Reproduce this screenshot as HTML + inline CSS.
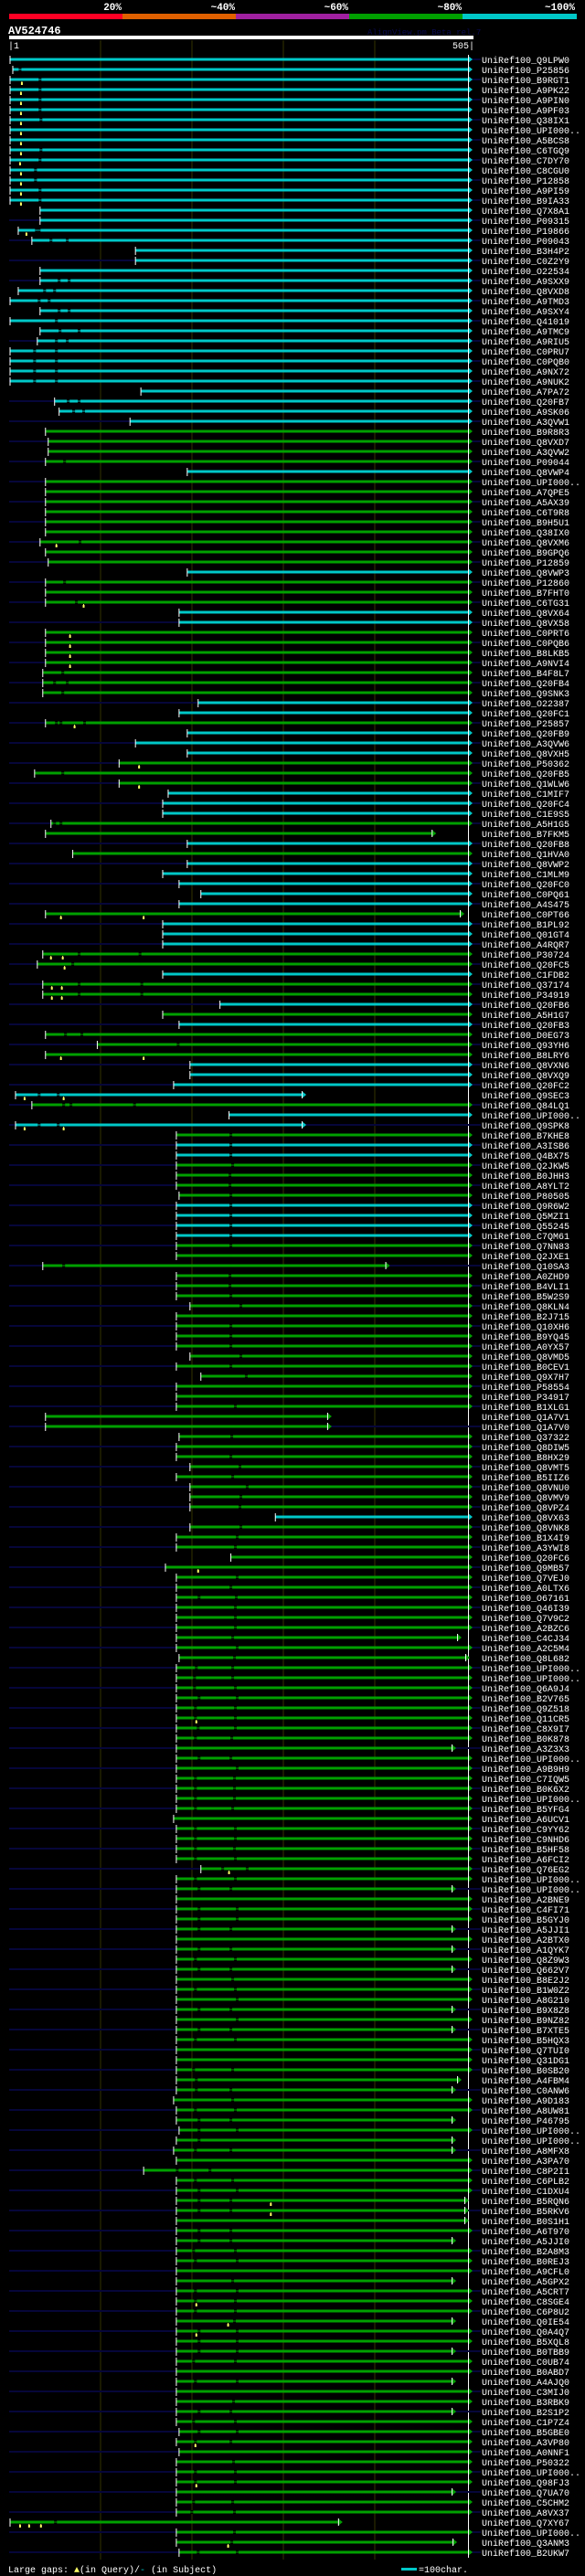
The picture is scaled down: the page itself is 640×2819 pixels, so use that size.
<!DOCTYPE html>
<html><head><meta charset="utf-8"><title>AV524746 alignment overview</title>
<style>
html,body{margin:0;padding:0;background:#000;}
body{width:640px;height:2819px;overflow:hidden;}
svg{display:block;}
text{font-family:"Liberation Mono",monospace;}
</style></head>
<body>
<svg id="chart" width="640" height="2819" viewBox="0 0 640 2819" xmlns="http://www.w3.org/2000/svg">
  <g>
    <text x="133" y="11" fill="#fff" font-size="11" font-weight="bold" text-anchor="end">20%</text>
    <text x="257" y="11" fill="#fff" font-size="11" font-weight="bold" text-anchor="end">~40%</text>
    <text x="381" y="11" fill="#fff" font-size="11" font-weight="bold" text-anchor="end">~60%</text>
    <text x="505" y="11" fill="#fff" font-size="11" font-weight="bold" text-anchor="end">~80%</text>
    <text x="629" y="11" fill="#fff" font-size="11" font-weight="bold" text-anchor="end">~100%</text>
    <rect x="10" y="15" width="124" height="6" fill="#ff0024"/>
    <rect x="134" y="15" width="124" height="6" fill="#e06000"/>
    <rect x="258" y="15" width="124" height="6" fill="#a020a0"/>
    <rect x="382" y="15" width="124" height="6" fill="#00a000"/>
    <rect x="506" y="15" width="125" height="6" fill="#00c8c8"/>
  </g>
  <text x="9" y="37" fill="#fff" font-size="12" font-weight="bold">AV524746</text>
  <text x="402" y="38" fill="#0a0a50" font-size="9">AlignView.pm Beta rel.7</text>
  <rect x="10" y="39" width="508" height="4" fill="#fff"/>
  <text x="9" y="53" fill="#fff" font-size="10">|1</text>
  <text x="519" y="53" fill="#fff" font-size="10" text-anchor="end">505|</text>
  <g id="grid"></g>
  <g id="rows"></g>
  <g>
    <text x="9" y="2815" fill="#fff" font-size="10">Large gaps: <tspan fill="#ffff66">▲</tspan>(in Query)/<tspan fill="#00c8c8">-</tspan> (in Subject)</text>
    <rect x="439" y="2810" width="17" height="3" fill="#00c8c8"/>
    <text x="458" y="2815" fill="#fff" font-size="10">=100char.</text>
  </g>
</svg>
<script>
const queryLength = 505;
const gridTicks = [101, 201, 302, 402];
const names = ["Q9LPW0","P25856","B9RGT1","A9PK22","A9PIN0","A9PF03","Q38IX1","UPI000..","A5BCS8","C6TGQ9","C7DY70","C8CGU0","P12858","A9PI59","B9IA33","Q7X8A1","P09315","P19866","P09043","B3H4P2","C0Z2Y9","O22534","A9SXX9","Q8VXD8","A9TMD3","A9SXY4","Q41019","A9TMC9","A9RIU5","C0PRU7","C0PQB0","A9NX72","A9NUK2","A7PA72","Q20FB7","A9SK06","A3QVW1","B9R8R3","Q8VXD7","A3QVW2","P09044","Q8VWP4",
"UPI000..","A7QPE5","A5AX39","C6T9R8","B9H5U1","Q38IX0","Q8VXM6","B9GPQ6","P12859","Q8VWP3","P12860","B7FHT0","C6TG31","Q8VX64","Q8VX58","C0PRT6","C0PQB6","B8LKB5","A9NVI4","B4F8L7","Q20FB4","Q9SNK3","O22387","Q20FC1","P25857","Q20FB9","A3QVW6","Q8VXH5","P50362","Q20FB5","Q1WLW6","C1MIF7","Q20FC4","C1E9S5","A5H1G5","B7FKM5","Q20FB8","Q1HVA0","Q8VWP2","C1MLM9","Q20FC0","C0PQ61",
"A4S475","C0PT66","B1PL92","Q01GT4","A4RQR7","P30724","Q20FC5","C1FDB2","Q37174","P34919","Q20FB6","A5H1G7","Q20FB3","D0EG73","Q93YH6","B8LRY6","Q8VXN6","Q8VXQ9","Q20FC2","Q9SEC3","Q84LQ1","UPI000..","Q9SPK8","B7KHE8","A3ISB6","Q4BX75","Q2JKW5","B0JHH3","A8YLT2","P80505","Q9R6W2","Q5MZI1","Q55245","C7QM61","Q7NN83","Q2JXE1","Q10SA3","A0ZHD9","B4VLI1","B5W2S9","Q8KLN4","B2J715",
"Q10XH6","B9YQ45","A0YX57","Q8VMD5","B0CEV1","Q9X7H7","P58554","P34917","B1XLG1","Q1A7V1","Q1A7V0","Q37322","Q8DIW5","B8HX29","Q8VMT5","B5IIZ6","Q8VNU0","Q8VMV9","Q8VPZ4","Q8VX63","Q8VNK8","B1X4I9","A3YWI8","Q20FC6","Q9MB57","Q7VEJ0","A0LTX6","O67161","Q46I39","Q7V9C2","A2BZC6","C4CJ34","A2C5M4","Q8L682","UPI000..","UPI000..","Q6A9J4","B2V765","Q9Z518","Q11CR5","C8X9I7","B0K878",
"A3Z3X3","UPI000..","A9B9H9","C7IQW5","B0K6X2","UPI000..","B5YFG4","A6UCV1","C9YY62","C9NHD6","B5HF58","A6FCI2","Q76EG2","UPI000..","UPI000..","A2BNE9","C4FI71","B5GYJ0","A5JJI1","A2BTX0","A1QYK7","Q8Z9W3","Q662V7","B8E2J2","B1W0Z2","A8G210","B9X8Z8","B9NZ82","B7XTE5","B5HQX3","Q7TUI0","Q31DG1","B0SB20","A4FBM4","C0ANW6","A9D183","A8UW81","P46795","UPI000..","UPI000..","A8MFX8","A3PA70",
"C8P2I1","C6PLB2","C1DXU4","B5RQN6","B5RKV6","B0S1H1","A6T970","A5JJI0","B2A8M3","B0REJ3","A9CFL0","A5GPX2","A5CRT7","C8SGE4","C6P8U2","Q0IE54","Q0A4Q7","B5XQL8","B0TBB9","C0UB74","B0ABD7","A4AJQ0","C3MIJ0","B3RBK9","B2S1P2","C1P7Z4","B5GBE0","A3VP80","A0NNF1","P50322","UPI000..","Q98FJ3","Q7UA70","C5CHM2","A8VX37","Q7XY67","UPI000..","Q3ANM3","B2UKW7"];
const colors = ("ccccccccccccccccccccccccccccccccccccc"+"ggggc"+
"gggggggggcgggccgggggggccgcccgggcccggcgcccc"+
"cgcccggcggcgcgggccccgccgccggggccccgggggggg"+
"gggggggggggggggggggc"+
"ggggggggggggggggggggggggggggggggggggggggggggggggggggggggggggggggggggggggggggggggggggggggggggggggggggggg").split("");
const starts = [1,4,1,1,1,1,1,1,1,1,1,1,1,1,1,34,34,10,25,139,139,34,34,10,1,34,1,34,31,1,1,1,1,145,50,55,133,40,43,43,40,196,
40,40,40,40,40,40,34,40,43,196,40,40,40,187,187,40,40,40,40,37,37,37,208,187,40,196,139,196,121,28,121,175,169,169,46,40,196,70,196,169,187,211,
187,40,169,169,169,37,31,169,37,37,232,169,187,40,97,40,199,199,181,7,25,242,7,184,184,184,184,184,184,187,184,184,184,184,184,184,37,184,184,184,199,184,
184,184,184,199,184,211,184,184,184,40,40,187,184,184,199,184,199,199,199,293,199,184,184,244,172,184,184,184,184,184,184,184,184,187,184,184,184,184,184,184,184,184,
184,184,184,184,184,184,184,181,184,184,184,184,211,184,184,184,184,184,184,184,184,184,184,184,184,184,184,184,184,184,184,184,184,184,184,181,184,184,187,184,181,184,
148,184,184,184,184,184,184,184,184,184,184,184,184,184,184,184,184,184,184,184,184,184,184,184,184,184,187,184,187,184,184,184,184,184,184,1,184,184,187];
const ends = [505,505,505,505,505,505,505,505,505,505,505,505,505,505,505,505,505,505,505,505,505,505,505,505,505,505,505,505,505,505,505,505,505,505,505,505,505,505,505,505,505,505,
505,505,505,505,505,505,505,505,505,505,505,505,505,505,505,505,505,505,505,505,505,505,505,505,505,505,505,505,505,505,505,505,505,505,505,465,505,505,505,505,505,505,
505,496,505,505,505,505,505,505,505,505,505,505,505,505,505,505,505,505,505,322,505,505,322,505,505,505,505,505,505,505,505,505,505,505,505,505,414,505,505,505,505,505,
505,505,505,505,505,505,505,505,505,350,350,505,505,505,505,505,505,505,505,505,505,505,505,505,505,505,505,505,505,505,505,493,505,502,505,505,505,505,505,505,505,505,
487,505,505,505,505,505,505,505,505,505,505,505,505,505,487,505,505,505,487,505,487,505,487,505,505,505,487,505,487,505,505,505,505,493,487,505,505,487,505,487,487,505,
505,505,505,501,501,501,505,487,505,505,505,487,505,505,505,487,505,505,487,505,505,487,505,505,487,505,505,505,505,505,505,505,487,505,505,362,505,488,505];
const gaps = [[],[12],[34],[34],[34],[34],[35],[],[],[35],[34],[29],[29],[34],[34],[],[],[30,33],[46,64],[],[],[],[55,66],[39,50],[33,44],[55,66],[52],[56,77],[52,64],[28,52],[28,52],[28,52],[28,52],[],[65,77],[71,82],[],[],[],[],[61],[],
[],[],[],[],[],[],[78],[],[],[],[61],[],[74],[],[],[],[],[],[],[59],[50,64],[59],[],[],[52,57,83],[],[],[],[],[59],[],[],[],[],[50,57],[],[],[],[],[],[],[],
[],[],[],[],[],[77,144],[70],[],[77,146],[77,146],[],[],[],[62,80],[186],[],[],[],[],[33,54],[60,68,138],[],[33,54],[244],[244],[244],[246],[243],[243],[244],[244],[244],[244],[244],[244],[],[60],[243],[243],[244],[255],[],
[244],[244],[244],[255],[244],[261],[],[],[249],[],[],[245],[],[244],[254],[246],[262],[255],[254],[],[255],[251],[249],[],[],[251],[244],[209,250],[249],[249],[249],[246],[251],[248],[206,246],[204,246],[204,249],[209,251],[205,249],[205,249],[208,249],[205,245],
[],[209,244],[251],[205,248],[205,248],[205,248],[205,246],[],[205,249],[205,249],[205,248],[205,249],[235,262],[205,249],[209,244],[],[209,251],[209,251],[209,244],[],[209,244],[205,249],[209,244],[246],[205,249],[251],[209,244],[251],[209,244],[205,249],[],[],[203,246],[206],[206,244],[246],[205,249],[209,244],[209,251],[209],[205,244],[],
[185,221],[205,246],[209,251],[209,244],[209,244],[],[209,244],[209,244],[203,249],[205,251],[],[246],[205,251],[205,249],[205,249],[248],[209,251],[209,251],[209,251],[203,249],[],[205,251],[],[247],[209,244],[203,249],[209,251],[205,244],[],[247],[205,249],[205,249],[],[203,246],[201,248],[51],[248],[245],[208,251]];
const queryGaps = [[],[],[14],[13],[13],[13],[13],[13],[13],[13],[12],[13],[13],[13],[13],[],[],[19],[],[],[],[],[],[],[],[],[],[],[],[],[],[],[],[],[],[],[],[],[],[],[],[],
[],[],[],[],[],[],[52],[],[],[],[],[],[82],[],[],[67],[67],[67],[67],[],[],[],[],[],[72],[],[],[],[143],[],[143],[],[],[],[],[],[],[],[],[],[],[],
[],[57,148],[],[],[],[46,59],[61],[],[47,58],[47,58],[],[],[],[],[],[57,148],[],[],[],[17,60],[],[],[17,60],[],[],[],[],[],[],[],[],[],[],[],[],[],[],[],[],[],[],[],
[],[],[],[],[],[],[],[],[],[],[],[],[],[],[],[],[],[],[],[],[],[],[],[],[208],[],[],[],[],[],[],[],[],[],[],[],[],[],[],[206],[],[],
[],[],[],[],[],[],[],[],[],[],[],[],[242],[],[],[],[],[],[],[],[],[],[],[],[],[],[],[],[],[],[],[],[],[],[],[],[],[],[],[],[],[],
[],[],[],[288],[288],[],[],[],[],[],[],[],[],[206],[],[241],[206],[],[],[],[],[],[],[],[],[],[],[205],[],[],[],[206],[],[],[],[12,22,35],[],[241],[]];

const NS = "http://www.w3.org/2000/svg";
const X0 = 11, X1 = 512, ROW0 = 65, ROWH = 11;
function xScale(r){ return X0 + (r - 1) * (X1 - X0) / (queryLength - 1); }
function yRow(i){ return ROW0 + i * ROWH; }
function mk(tag, attrs, parent){ const e = document.createElementNS(NS, tag); for (const k in attrs) e.setAttribute(k, attrs[k]); parent.appendChild(e); return e; }
const COL = {c:"#00c8c8", g:"#00a000"};

const grid = document.getElementById("grid");
gridTicks.forEach(function(t){
  const l = mk("rect", {x: Math.round(xScale(t)) - 0.5, y: 44, width: 1, height: yRow(names.length - 1) - 36, fill: "#333300"}, grid);
  
  
});
const endLine = mk("rect", {x: X1, y: 60, width: 1, height: yRow(names.length - 1) - 54, fill: "#ffffff"}, grid);



const rowsG = document.getElementById("rows");
names.forEach(function(nm, i){
  const y = yRow(i);
  const g = mk("g", {}, rowsG);
  
  
  const col = COL[colors[i]] || COL.g;
  if (i % 2 === 0) {
    const bg = mk("rect", {x: 10, y: y - 1, width: 516, height: 2, fill: "#06063a"}, g);
    
    
  }
  const xs = xScale(starts[i]), xe = xScale(ends[i]);
  const line = mk("rect", {x: xs, y: y - 1.5, width: Math.max(1, xe - xs), height: 3, fill: col}, g);
  
  
  (gaps[i] || []).forEach(function(gp){
    const gx = xScale(gp);
    const cut = mk("rect", {x: gx - 1.5, y: y - 2, width: 3, height: 4, fill: "#000"}, g);
    
    
    mk("rect", {x: gx - 1.5, y: y - 0.5, width: 3, height: 1, fill: col}, g);
  });
  (queryGaps[i] || []).forEach(function(q){
    const qx = xScale(q);
    const m = mk("rect", {x: qx - 1, y: y + 3, width: 2, height: 3, fill: "#ffff66"}, g);
    
    
    mk("rect", {x: qx - 0.5, y: y + 2, width: 1, height: 1, fill: "#ffff66"}, g);
  });
  const tick = mk("rect", {x: xs - 0.5, y: y - 4, width: 1, height: 9, fill: "#ffffff"}, g);
  
  
  const ar = mk("polygon", {points: xe + "," + (y - 4) + " " + (xe + 5) + "," + y + " " + xe + "," + (y + 4), fill: col}, g);
  
  
  mk("rect", {x: xe, y: y - 4, width: 1, height: 8, fill: "#ffffff"}, g);
  const t = mk("text", {x: 527, y: y + 4, fill: "#ffffff", "font-size": 10}, g);
  
  
  t.textContent = "UniRef100_" + nm;
});
</script>
</body></html>
